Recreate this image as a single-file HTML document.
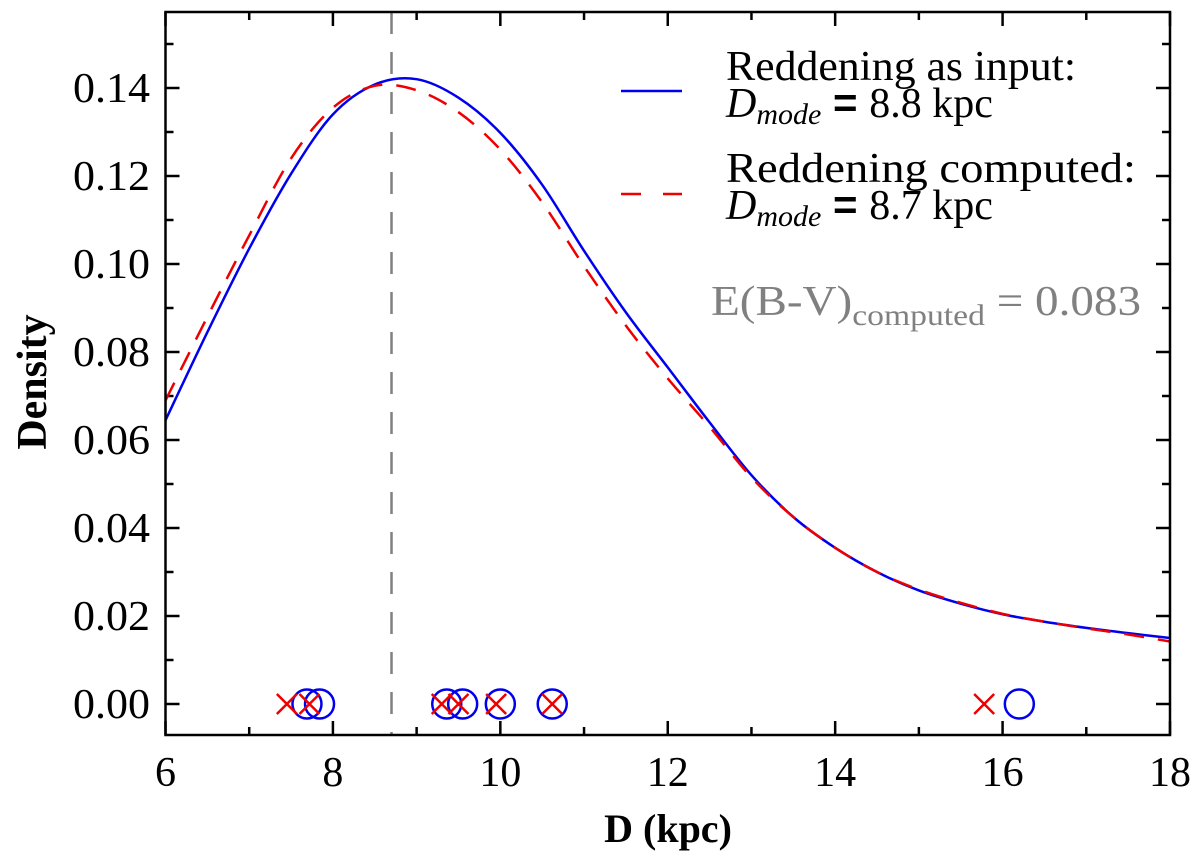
<!DOCTYPE html>
<html><head><meta charset="utf-8"><style>
body{margin:0;background:#fff}
svg text{font-family:"Liberation Serif",serif}
</style></head><body>
<svg id="chart" width="1200" height="858" viewBox="0 0 1200 858" xmlns="http://www.w3.org/2000/svg">
<g id="ticks"></g>
<g id="marks"></g>
<rect x="165.5" y="12" width="1004.5" height="723" fill="none" stroke="#000" stroke-width="2.5"/>
<text x="668" y="842" font-size="40" font-weight="bold" text-anchor="middle">D (kpc)</text>
<text transform="translate(46,382) rotate(-90)" font-size="42" font-weight="bold" text-anchor="middle">Density</text>
<g>
<line x1="621" y1="91" x2="682" y2="91" stroke="#0000ee" stroke-width="2.5"/>
<line x1="621" y1="194" x2="682" y2="194" stroke="#ee0000" stroke-width="2.5" stroke-dasharray="20,22"/>
<text x="726" y="80" font-size="42" textLength="350" lengthAdjust="spacingAndGlyphs">Reddening as input:</text>
<text x="726" y="117" font-size="42"><tspan font-style="italic">D</tspan><tspan font-style="italic" font-size="30" dy="7">mode</tspan><tspan dy="-7" font-family="Liberation Sans" font-weight="bold"> = </tspan>8.8 kpc</text>
<text x="726" y="182" font-size="42" textLength="410" lengthAdjust="spacingAndGlyphs">Reddening computed:</text>
<text x="726" y="219" font-size="42"><tspan font-style="italic">D</tspan><tspan font-style="italic" font-size="30" dy="7">mode</tspan><tspan dy="-7" font-family="Liberation Sans" font-weight="bold"> = </tspan>8.7 kpc</text>
<text x="711" y="315" font-size="42" fill="#808080" textLength="430" lengthAdjust="spacingAndGlyphs">E(B-V)<tspan font-size="30" dy="10">computed</tspan><tspan dy="-10"> = 0.083</tspan></text>
</g>
</svg>
<script>
const distX = [6,6.5,7,7.5,8,8.5,9,9.5,10,10.5,11,11.5,12,12.5,13,13.5,14,14.5,15,15.5,16,16.5,17,17.5,18];
const densityInput = [0.0645,0.0845,0.1035,0.1205,0.134,0.1408,0.1420,0.1378,0.1298,0.118,0.103,0.089,0.0765,0.064,0.052,0.0425,0.0355,0.030,0.0258,0.0228,0.0204,0.0187,0.0173,0.0161,0.015];
const densityComputed = [0.069,0.088,0.1065,0.124,0.1355,0.1405,0.1395,0.1345,0.126,0.114,0.0995,0.086,0.074,0.063,0.0515,0.0425,0.0355,0.030,0.026,0.023,0.0205,0.0187,0.0172,0.0158,0.0142];
const starsInput = [7.69,7.84,9.36,9.55,10.0,10.62,16.2];
const starsComputed = [7.45,7.72,9.3,9.5,9.95,10.62,15.78];
const modeLine = 8.7;
const xTicks = [6,8,10,12,14,16,18];
const yTicks = [0,0.02,0.04,0.06,0.08,0.10,0.12,0.14];
const yTickLabels = ["0.00","0.02","0.04","0.06","0.08","0.10","0.12","0.14"];

const NS="http://www.w3.org/2000/svg";
const X0=165.5,X1=1170,Y0=704,PX=(X1-X0)/12,PY=616/0.14;
const sx=v=>X0+(v-6)*PX, sy=v=>Y0-v*PY;
const ticks=document.getElementById('ticks'), marks=document.getElementById('marks');
function mk(tag,parent,attrs){const e=document.createElementNS(NS,tag);for(const k in attrs)e.setAttribute(k,attrs[k]);parent.appendChild(e);return e;}
for(let v=6;v<=18;v+=1){const x=sx(v),L=(v%2===0)?14:8;
 let t=mk('line',ticks,{x1:x,x2:x,y1:735,y2:735-L,stroke:'#000','stroke-width':2.5});
 
 
 t=mk('line',ticks,{x1:x,x2:x,y1:12,y2:12+L,stroke:'#000','stroke-width':2.5});
 
 }
xTicks.forEach(v=>{const t=mk('text',ticks,{x:sx(v),y:786,'font-size':42,'text-anchor':'middle'});t.textContent=v;
 
 });
for(let i=0;i<=15;i++){const v=i*0.01,y=sy(v);if(y<12)continue;const L=(i%2===0)?14:8;
 let t=mk('line',ticks,{x1:165.5,x2:165.5+L,y1:y,y2:y,stroke:'#000','stroke-width':2.5});
 
 
 t=mk('line',ticks,{x1:1170,x2:1170-L,y1:y,y2:y,stroke:'#000','stroke-width':2.5});
 
 }
yTicks.forEach((v,i)=>{const t=mk('text',ticks,{x:73,y:sy(v)+14,'font-size':42,textLength:77,lengthAdjust:'spacingAndGlyphs'});t.textContent=yTickLabels[i];
 
 });
let ml=mk('line',marks,{x1:sx(modeLine),x2:sx(modeLine),y1:12,y2:735,stroke:'#808080','stroke-width':2.5,'stroke-dasharray':'22,18'});


function smooth(xs,ys){const p=xs.map((x,i)=>[sx(x),sy(ys[i])]);let d='M'+p[0].join(',');
 for(let i=0;i<p.length-1;i++){const a=p[Math.max(i-1,0)],b=p[i],c=p[i+1],e=p[Math.min(i+2,p.length-1)];
 d+=` C${b[0]+(c[0]-a[0])/6},${b[1]+(c[1]-a[1])/6} ${c[0]-(e[0]-b[0])/6},${c[1]-(e[1]-b[1])/6} ${c[0]},${c[1]}`;}return d;}
let c1=mk('path',marks,{d:smooth(distX,densityInput),fill:'none',stroke:'#0000ee','stroke-width':2.5});


let c2=mk('path',marks,{d:smooth(distX,densityComputed),fill:'none',stroke:'#ee0000','stroke-width':2.5,'stroke-dasharray':'20,14'});


starsInput.forEach(v=>{const c=mk('circle',marks,{cx:sx(v),cy:sy(0),r:14.5,fill:'none',stroke:'#0000ee','stroke-width':2.5});
 
 });
starsComputed.forEach(v=>{const x=sx(v),y=sy(0),s=10;
 const p=mk('path',marks,{d:`M${x-s},${y-s}L${x+s},${y+s}M${x-s},${y+s}L${x+s},${y-s}`,stroke:'#ee0000','stroke-width':2.5,fill:'none'});
 
 });
</script>
</body></html>
